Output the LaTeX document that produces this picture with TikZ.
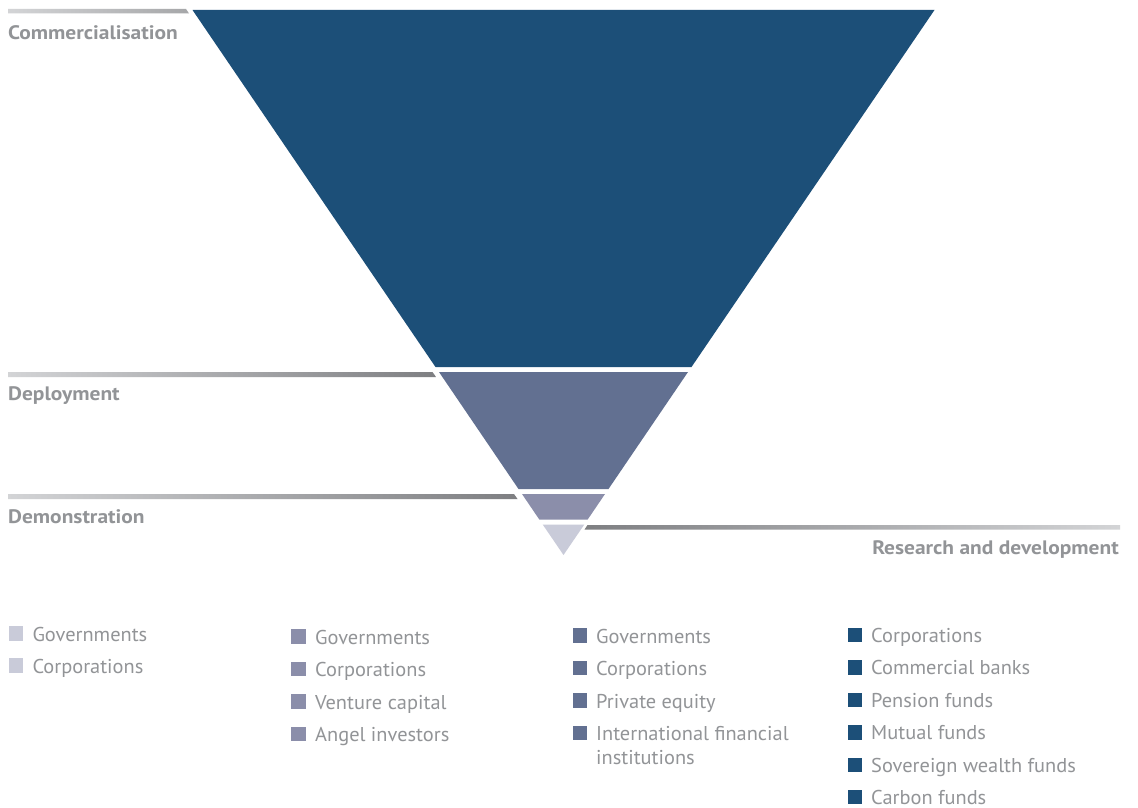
\documentclass[tikz,border=0pt]{standalone}
\usepackage{fontspec}
\setmainfont{PT Sans}
\newfontfamily\lblfont{PT Sans}[FakeStretch=1.10]
\newfontfamily\legfont{PT Sans}[FakeStretch=1.02]
\definecolor{txtgray}{HTML}{929497}
\definecolor{ccomm}{HTML}{1C4F78}
\definecolor{cdep}{HTML}{627091}
\definecolor{cdem}{HTML}{8B8EAA}
\definecolor{crd}{HTML}{C9CBD9}
\definecolor{barlight}{HTML}{D3D4D6}
\definecolor{bardark}{HTML}{7E7F82}
\definecolor{barmid}{HTML}{A6A7A9}
\begin{document}
\begin{tikzpicture}[x=1pt,y=-1pt,
  lbl/.style={text=txtgray,font=\lblfont\bfseries\fontsize{19.5}{19.5}\selectfont,inner sep=0pt},
  leg/.style={text=txtgray,font=\legfont\fontsize{20}{24}\selectfont,inner sep=0pt,anchor=base west,align=left},
  sq/.style={inner sep=0pt,minimum size=14.5pt,anchor=south west}]
\fill[white] (0,0) rectangle (1138,808);
\useasboundingbox (0,0) rectangle (1138,808);
% gradient bars
\shade[left color=barlight,right color=barmid] (8,9) -- (186,9) -- (189,13.5) -- (8,13.5) -- cycle;
\shade[left color=barlight,right color=bardark] (8,372) -- (432.5,372) -- (436,377) -- (8,377) -- cycle;
\shade[left color=barlight,right color=bardark] (8,494) -- (514,494) -- (517.5,499) -- (8,499) -- cycle;
\shade[left color=bardark,right color=barlight] (587.5,525) -- (1120,525) -- (1120,529.5) -- (584.5,529.5) -- cycle;
% funnel bands
\fill[ccomm] (192.5,10) -- (934.5,10) -- (691.5,367) -- (435.5,367) -- cycle;
\fill[cdep] (439,372) -- (688,372) -- (608.5,489) -- (518.5,489) -- cycle;
\fill[cdem] (522,494) -- (605,494) -- (587.7,519.5) -- (539.3,519.5) -- cycle;
\fill[crd] (542.7,524.5) -- (584.3,524.5) -- (563.5,555) -- cycle;
% stage labels
\node[lbl,anchor=base west] (comm) at (8,39.5) {Commercialisation};
\node[lbl,anchor=base west] (dep) at (8,400.7) {Deployment};
\node[lbl,anchor=base west] (dem) at (8,523.3) {Demonstration};
\node[lbl,anchor=base east] (rd) at (1119,554.3) {Research and development};
% legend column 1
\node[sq,fill=crd] (s1a) at (8.3,641) {};
\node[leg] (t1a) at (32.3,641) {Governments};
\node[sq,fill=crd] (s1b) at (8.3,673) {};
\node[leg] (t1b) at (32.3,673) {Corporations};
% legend column 2
\node[sq,fill=cdem] (s2a) at (291,644) {};
\node[leg] (t2a) at (315,644) {Governments};
\node[sq,fill=cdem] (s2b) at (291,676.5) {};
\node[leg] (t2b) at (315,676.5) {Corporations};
\node[sq,fill=cdem] (s2c) at (291,709) {};
\node[leg] (t2c) at (315,709) {Venture capital};
\node[sq,fill=cdem] (s2d) at (291,741.5) {};
\node[leg] (t2d) at (315,741.5) {Angel investors};
% legend column 3
\node[sq,fill=cdep] (s3a) at (572.3,643) {};
\node[leg] (t3a) at (596,643) {Governments};
\node[sq,fill=cdep] (s3b) at (572.3,675.5) {};
\node[leg] (t3b) at (596,675.5) {Corporations};
\node[sq,fill=cdep] (s3c) at (572.3,708) {};
\node[leg] (t3c) at (596,708) {Private equity};
\node[sq,fill=cdep] (s3d) at (572.3,740.5) {};
\node[leg] (t3d) at (596,740.5) {International financial};
\node[leg] (t3e) at (596,764.5) {institutions};
% legend column 4
\node[sq,fill=ccomm] (s4a) at (847.3,642.3) {};
\node[leg] (t4a) at (871,642.3) {Corporations};
\node[sq,fill=ccomm] (s4b) at (847.3,674.8) {};
\node[leg] (t4b) at (871,674.8) {Commercial banks};
\node[sq,fill=ccomm] (s4c) at (847.3,707.3) {};
\node[leg] (t4c) at (871,707.3) {Pension funds};
\node[sq,fill=ccomm] (s4d) at (847.3,739.8) {};
\node[leg] (t4d) at (871,739.8) {Mutual funds};
\node[sq,fill=ccomm] (s4e) at (847.3,772.3) {};
\node[leg] (t4e) at (871,772.3) {Sovereign wealth funds};
\node[sq,fill=ccomm] (s4f) at (847.3,804.3) {};
\node[leg] (t4f) at (871,804.3) {Carbon funds};
\end{tikzpicture}
\end{document}
